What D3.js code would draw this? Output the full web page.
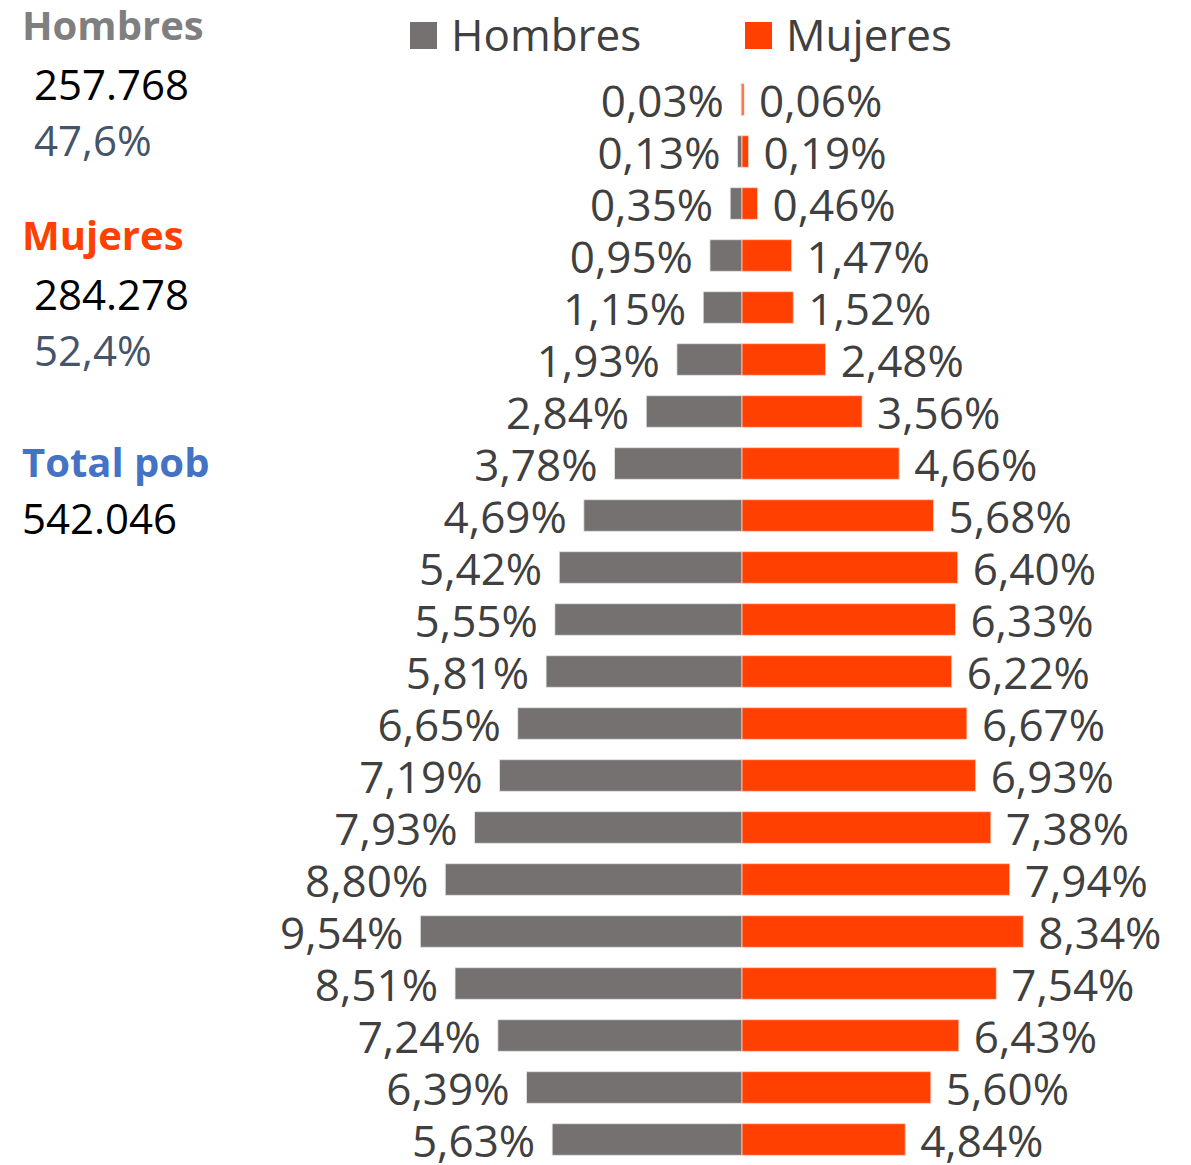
<!DOCTYPE html>
<html>
<head>
<meta charset="utf-8">
<script src="https://cdn.jsdelivr.net/npm/d3@7"></script>
<style>
  body { margin: 0; background: #fff; }
  text { font-family: "Open Sans", "Noto Sans", sans-serif; }
</style>
</head>
<body>
<div id="chart"></div>
<script>
// Age groups, top (oldest) to bottom (youngest)
const ages = ["100+", "95-99", "90-94", "85-89", "80-84", "75-79", "70-74", "65-69", "60-64",
  "55-59", "50-54", "45-49", "40-44", "35-39", "30-34", "25-29", "20-24", "15-19", "10-14", "5-9", "0-4"];
const hombres = [0.03, 0.13, 0.35, 0.95, 1.15, 1.93, 2.84, 3.78, 4.69, 5.42, 5.55, 5.81,
  6.65, 7.19, 7.93, 8.80, 9.54, 8.51, 7.24, 6.39, 5.63];
const mujeres = [0.06, 0.19, 0.46, 1.47, 1.52, 2.48, 3.56, 4.66, 5.68, 6.40, 6.33, 6.22,
  6.67, 6.93, 7.38, 7.94, 8.34, 7.54, 6.43, 5.60, 4.84];

// Summary block on the left
const summary = [
  { label: "Hombres", value: "257.768", share: "47,6%", color: "#7f7f7f" },
  { label: "Mujeres", value: "284.278", share: "52,4%", color: "#ff4000" }
];
const totalLabel = "Total pob";
const totalValue = "542.046";

const width = 1191, height = 1165;
const center = 742;
const colH = "#767171", colM = "#ff4000";
const labelColor = "#404040";

const svg = d3.select("#chart").append("svg")
  .attr("width", width)
  .attr("height", height);

const y = d3.scaleBand()
  .domain(ages)
  .range([73.5, 1165.5])
  .paddingInner(0.394)
  .paddingOuter(0.197);

const x = d3.scaleLinear()
  .domain([0, 10])
  .range([0, 337.2]);

const fmt = v => d3.format(".2f")(v).replace(".", ",") + "%";

const rows = ages.map((a, i) => ({ age: a, h: hombres[i], m: mujeres[i] }));

// bars
svg.append("g").selectAll("rect")
  .data(rows).enter().append("rect")
  .attr("x", d => center - x(d.h))
  .attr("y", d => y(d.age))
  .attr("width", d => x(d.h))
  .attr("height", y.bandwidth())
  .attr("fill", colH)
  .attr("stroke", "#e6e6e6")
  .attr("stroke-width", 0.8);

svg.append("g").selectAll("rect")
  .data(rows).enter().append("rect")
  .attr("x", center)
  .attr("y", d => y(d.age))
  .attr("width", d => x(d.m))
  .attr("height", y.bandwidth())
  .attr("fill", colM)
  .attr("stroke", "#ffd0c0")
  .attr("stroke-width", 0.8);

// value labels
const fs = 44;
svg.append("g").selectAll("text")
  .data(rows).enter().append("text")
  .attr("x", d => center - x(d.h) - 17)
  .attr("y", d => y(d.age) + y.bandwidth() / 2 + 17)
  .attr("text-anchor", "end")
  .attr("font-size", fs)
  .attr("fill", labelColor)
  .text(d => fmt(d.h));

svg.append("g").selectAll("text")
  .data(rows).enter().append("text")
  .attr("x", d => center + x(d.m) + 15)
  .attr("y", d => y(d.age) + y.bandwidth() / 2 + 17)
  .attr("font-size", fs)
  .attr("fill", labelColor)
  .text(d => fmt(d.m));

// legend
const legend = svg.append("g");
[["Hombres", colH, 410], ["Mujeres", colM, 745]].forEach(([name, c, lx]) => {
  legend.append("rect")
    .attr("x", lx).attr("y", 22)
    .attr("width", 27).attr("height", 27)
    .attr("fill", c);
  legend.append("text")
    .attr("x", lx + 41).attr("y", 51)
    .attr("font-size", fs)
    .attr("fill", labelColor)
    .text(name);
});

// left summary
const side = svg.append("g");
summary.forEach((s, i) => {
  const top = i * 210;
  side.append("text")
    .attr("x", 22).attr("y", 40 + top)
    .attr("font-size", 40).attr("font-weight", "bold")
    .attr("fill", s.color)
    .text(s.label);
  side.append("text")
    .attr("x", 34).attr("y", 100 + top)
    .attr("font-size", 42)
    .attr("fill", "#000")
    .text(s.value);
  side.append("text")
    .attr("x", 34).attr("y", 156 + top)
    .attr("font-size", 42)
    .attr("fill", "#44546a")
    .text(s.share);
});
side.append("text")
  .attr("x", 22).attr("y", 477)
  .attr("font-size", 40).attr("font-weight", "bold")
  .attr("fill", "#4472c4")
  .text(totalLabel);
side.append("text")
  .attr("x", 22).attr("y", 534)
  .attr("font-size", 42)
  .attr("fill", "#000")
  .text(totalValue);
</script>
</body>
</html>
